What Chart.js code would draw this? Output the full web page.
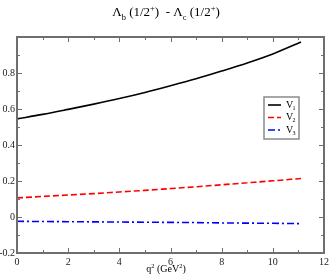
<!DOCTYPE html>
<html>
<head>
<meta charset="utf-8">
<script src="https://cdn.jsdelivr.net/npm/chart.js@4.4.1/dist/chart.umd.min.js"></script>
<style>
  html, body { margin: 0; padding: 0; background: #fff; }
  #wrap { position: relative; width: 332px; height: 278px; }
  #chart { position: absolute; left: 0; top: 0; }
  .txt { position: absolute; font-family: "Liberation Serif", "DejaVu Serif", serif; color: #000; white-space: nowrap; }
  #title { left: 0; width: 332px; top: 4px; text-align: center; font-size: 13px; }
  #xlabel { left: 0; width: 332px; top: 263px; text-align: center; font-size: 10px; }
  sub, sup { font-size: 65%; line-height: 0; }
</style>
</head>
<body>
<div id="wrap">
  <canvas id="chart" width="332" height="278"></canvas>
  <div id="title" class="txt">Λ<sub>b</sub> (1/2<sup>+</sup>)&nbsp; - Λ<sub>c</sub> (1/2<sup>+</sup>)</div>
  <div id="xlabel" class="txt">q<sup>2</sup> (GeV<sup>2</sup>)</div>
</div>
<script>
// 데이터 (q² 단위 GeV²)
const q2     = [0, 1, 2, 3, 4, 5, 6, 7, 8, 9, 10, 11.1];
const v1     = [0.545, 0.570, 0.598, 0.627, 0.658, 0.692, 0.729, 0.768, 0.811, 0.856, 0.906, 0.972];
const v2     = [0.106, 0.114, 0.122, 0.130, 0.139, 0.148, 0.158, 0.168, 0.179, 0.190, 0.201, 0.214];
const v3     = [-0.024, -0.025, -0.026, -0.027, -0.028, -0.029, -0.030, -0.031, -0.033, -0.034, -0.035, -0.037];
const names  = ['V1', 'V2', 'V3'];
const xTicks = [0, 2, 4, 6, 8, 10, 12];
const yTicks = [-0.2, 0, 0.2, 0.4, 0.6, 0.8, 1.0];

const FRAME = '#6e6e6e';
const FONT  = '"Liberation Serif", "DejaVu Serif", serif';

const pts = ys => q2.map((x, i) => ({ x, y: ys[i] }));

// 안쪽 눈금 + 테두리 + 범례
const framePlugin = {
    id: 'frame',
    afterDatasetsDraw(chart) {
        const { ctx, chartArea: a, scales: { x, y } } = chart;
        ctx.save();
        ctx.strokeStyle = FRAME;
        ctx.lineWidth = 1;
        ctx.beginPath();
        for (let v = 0; v <= 12; v += 1) {
            const px = Math.round(x.getPixelForValue(v)) + 0.5;
            const len = v % 2 === 0 ? 5 : 3;
            ctx.moveTo(px, a.bottom); ctx.lineTo(px, a.bottom - len);
            ctx.moveTo(px, a.top);    ctx.lineTo(px, a.top + len);
        }
        for (let k = -2; k <= 10; k++) {
            const py = Math.round(y.getPixelForValue(k / 10)) + 0.5;
            const len = k % 2 === 0 ? 5 : 3;
            ctx.moveTo(a.left, py);  ctx.lineTo(a.left + len, py);
            ctx.moveTo(a.right, py); ctx.lineTo(a.right - len, py);
        }
        ctx.stroke();
        ctx.lineWidth = 2;
        ctx.strokeRect(a.left, a.top, a.right - a.left, a.bottom - a.top);

        // 범례
        const bx = 264, by = 97, bw = 35, bh = 42;
        ctx.fillStyle = '#fff';
        ctx.fillRect(bx, by, bw, bh);
        ctx.lineWidth = 1.5;
        ctx.strokeStyle = '#8a8a8a';
        ctx.strokeRect(bx, by, bw, bh);
        chart.data.datasets.forEach((ds, i) => {
            const ly = by + 8 + i * 12.5;
            ctx.strokeStyle = ds.borderColor;
            ctx.lineWidth = ds.borderWidth;
            ctx.setLineDash(ds.borderDash || []);
            ctx.beginPath();
            ctx.moveTo(bx + 4, ly);
            ctx.lineTo(bx + 17, ly);
            ctx.stroke();
            ctx.setLineDash([]);
            ctx.fillStyle = '#000';
            ctx.font = '10px ' + FONT;
            ctx.textBaseline = 'middle';
            ctx.fillText('V', bx + 22, ly);
            ctx.font = '6px ' + FONT;
            ctx.fillText(ds.label.slice(1), bx + 28.5, ly + 3);
        });
        ctx.restore();
    }
};

new Chart(document.getElementById('chart'), {
    type: 'line',
    data: {
        datasets: [
            { label: names[0], data: pts(v1), borderColor: '#000000', borderWidth: 1.6 },
            { label: names[1], data: pts(v2), borderColor: '#ff0000', borderWidth: 1.6, borderDash: [6, 3] },
            { label: names[2], data: pts(v3), borderColor: '#0000ff', borderWidth: 1.6, borderDash: [7, 3, 2, 3] },
        ].map(d => Object.assign(d, { pointRadius: 0, fill: false, tension: 0.4, cubicInterpolationMode: 'monotone' })),
    },
    options: {
        responsive: false,
        animation: false,
        layout: { padding: { top: 37, right: 6, left: 0, bottom: 0 } },
        plugins: { legend: { display: false }, tooltip: { enabled: false } },
        scales: {
            x: {
                type: 'linear', min: 0, max: 12,
                afterFit: s => { s.height = 25; },
                afterBuildTicks: s => { s.ticks = xTicks.map(value => ({ value })); },
                grid: { display: false, drawTicks: false },
                border: { display: false },
                ticks: { padding: 3, color: '#222', font: { family: FONT, size: 10 }, maxRotation: 0 },
            },
            y: {
                type: 'linear', min: -0.2, max: 1.0,
                afterFit: s => { s.width = 17; },
                afterBuildTicks: s => { s.ticks = yTicks.map(value => ({ value })); },
                grid: { display: false, drawTicks: false },
                border: { display: false },
                ticks: {
                    padding: 2, color: '#222', font: { family: FONT, size: 10 },
                    callback: v => {
                        const r = Math.round(v * 10) / 10;
                        return r === 1 ? '' : String(r);
                    },
                },
            },
        },
    },
    plugins: [framePlugin],
});
</script>
</body>
</html>
